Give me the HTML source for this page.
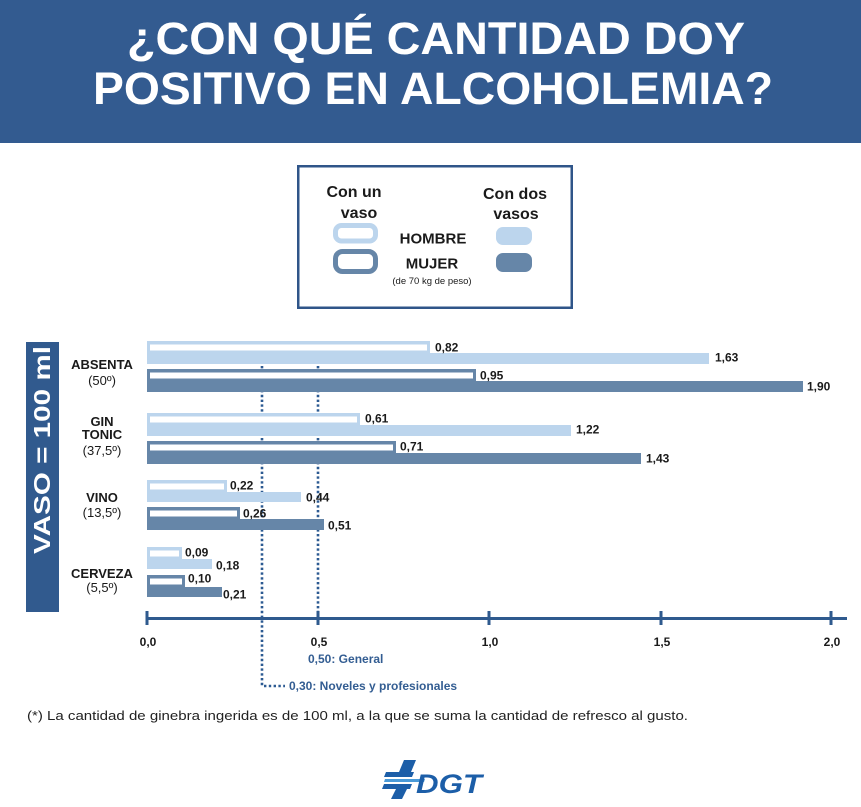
<!DOCTYPE html>
<html><head><meta charset="utf-8">
<style>
html,body{margin:0;padding:0;background:#fff;}
svg{display:block;}
text{font-family:"Liberation Sans",Arial,sans-serif;}
</style></head>
<body>
<svg width="861" height="807" viewBox="0 0 861 807" xmlns="http://www.w3.org/2000/svg">
<!-- header -->
<rect x="0" y="0" width="861" height="143" fill="#335b90"/>
<text x="436" y="54" text-anchor="middle" font-size="45" font-weight="bold" fill="#fff" textLength="618" lengthAdjust="spacingAndGlyphs">¿CON QUÉ CANTIDAD DOY</text>
<text x="433" y="104" text-anchor="middle" font-size="45" font-weight="bold" fill="#fff" textLength="680" lengthAdjust="spacingAndGlyphs">POSITIVO EN ALCOHOLEMIA?</text>

<!-- legend -->
<rect x="298.25" y="166.25" width="273.5" height="141.5" fill="#fff" stroke="#2f5589" stroke-width="2.5"/>
<text x="354" y="197" text-anchor="middle" font-size="16" font-weight="bold" fill="#1a1a1a">Con un</text>
<text x="359" y="218" text-anchor="middle" font-size="16" font-weight="bold" fill="#1a1a1a">vaso</text>
<text x="515" y="199" text-anchor="middle" font-size="16" font-weight="bold" fill="#1a1a1a">Con dos</text>
<text x="516" y="219" text-anchor="middle" font-size="16" font-weight="bold" fill="#1a1a1a">vasos</text>
<rect x="335.5" y="225.5" width="40" height="15.5" rx="6" fill="#fff" stroke="#bcd5ed" stroke-width="5"/>
<rect x="335.5" y="251.5" width="40" height="20" rx="7" fill="#fff" stroke="#6686a8" stroke-width="5"/>
<rect x="496" y="227" width="36" height="18" rx="7" fill="#bcd5ed"/>
<rect x="496" y="253" width="36" height="19" rx="7" fill="#6686a8"/>
<text x="433" y="243.5" text-anchor="middle" font-size="15" font-weight="bold" fill="#1a1a1a">HOMBRE</text>
<text x="432" y="268.5" text-anchor="middle" font-size="15" font-weight="bold" fill="#1a1a1a">MUJER</text>
<text x="432" y="284" text-anchor="middle" font-size="9.5" fill="#1a1a1a">(de 70 kg de peso)</text>

<!-- VASO = 100 ml -->
<rect x="26" y="342" width="33" height="270" fill="#315a8e"/>
<text transform="translate(50,450) rotate(-90)" x="0" y="0" text-anchor="middle" font-size="23" font-weight="bold" fill="#fff" textLength="208" lengthAdjust="spacingAndGlyphs">VASO = 100 ml</text>

<!-- category labels -->
<g font-size="13" fill="#1a1a1a" text-anchor="middle">
<text x="102" y="369" font-weight="bold">ABSENTA</text>
<text x="102" y="385">(50º)</text>
<text x="102" y="426" font-weight="bold">GIN</text>
<text x="102" y="439" font-weight="bold">TONIC</text>
<text x="102" y="455">(37,5º)</text>
<text x="102" y="502" font-weight="bold">VINO</text>
<text x="102" y="517">(13,5º)</text>
<text x="102" y="578" font-weight="bold">CERVEZA</text>
<text x="102" y="592">(5,5º)</text>
</g>

<!-- dotted reference lines -->
<g stroke="#2c5a92" stroke-width="2.6" stroke-dasharray="2.4 2.4" fill="none">
<line x1="262" y1="366" x2="262" y2="686"/>
<line x1="264" y1="686" x2="285" y2="686"/>
<line x1="318" y1="366" x2="318" y2="612"/>
</g>

<!-- bars -->
<g>
<!-- ABSENTA -->
<rect x="147" y="341" width="283" height="12" fill="#bcd5ed"/><rect x="150" y="344.5" width="277" height="6" fill="#fff"/>
<rect x="147" y="353" width="562" height="11" fill="#bcd5ed"/>
<rect x="147" y="369" width="329" height="12" fill="#6686a8"/><rect x="150" y="372.5" width="323" height="6" fill="#fff"/>
<rect x="147" y="381" width="656" height="11" fill="#6686a8"/>
<!-- GIN -->
<rect x="147" y="413" width="213" height="12" fill="#bcd5ed"/><rect x="150" y="416.5" width="207" height="6" fill="#fff"/>
<rect x="147" y="425" width="424" height="11" fill="#bcd5ed"/>
<rect x="147" y="441" width="249" height="12" fill="#6686a8"/><rect x="150" y="444.5" width="243" height="6" fill="#fff"/>
<rect x="147" y="453" width="494" height="11" fill="#6686a8"/>
<!-- VINO -->
<rect x="147" y="480" width="80" height="12" fill="#bcd5ed"/><rect x="150" y="483.5" width="74" height="6" fill="#fff"/>
<rect x="147" y="492" width="154" height="10" fill="#bcd5ed"/>
<rect x="147" y="507" width="93" height="12" fill="#6686a8"/><rect x="150" y="510.5" width="87" height="6" fill="#fff"/>
<rect x="147" y="519" width="177" height="11" fill="#6686a8"/>
<!-- CERVEZA -->
<rect x="147" y="547" width="35" height="12" fill="#bcd5ed"/><rect x="150" y="550.5" width="29" height="6" fill="#fff"/>
<rect x="147" y="559" width="65" height="10" fill="#bcd5ed"/>
<rect x="147" y="575" width="38" height="12" fill="#6686a8"/><rect x="150" y="578.5" width="32" height="6" fill="#fff"/>
<rect x="147" y="587" width="75" height="10" fill="#6686a8"/>
</g>

<!-- value labels -->
<g font-size="12" font-weight="bold" fill="#1a1a1a">
<text x="435" y="351.5">0,82</text>
<text x="715" y="361.5">1,63</text>
<text x="480" y="379.5">0,95</text>
<text x="807" y="390.5">1,90</text>
<text x="365" y="422.5">0,61</text>
<text x="576" y="433.5">1,22</text>
<text x="400" y="450.5">0,71</text>
<text x="646" y="462.5">1,43</text>
<text x="230" y="489.5">0,22</text>
<text x="306" y="501.5">0,44</text>
<text x="243" y="517.5">0,26</text>
<text x="328" y="529.5">0,51</text>
<text x="185" y="556.5">0,09</text>
<text x="216" y="569.5">0,18</text>
<text x="188" y="582.5">0,10</text>
<text x="223" y="598.5">0,21</text>
</g>

<!-- axis -->
<rect x="147" y="617" width="700" height="3" fill="#2f5a8e"/>
<g fill="#2f5a8e">
<rect x="145.5" y="611" width="3" height="14"/>
<rect x="316.5" y="611" width="3" height="14"/>
<rect x="487.5" y="611" width="3" height="14"/>
<rect x="659.5" y="611" width="3" height="14"/>
<rect x="829.5" y="611" width="3" height="14"/>
</g>
<g font-size="12" font-weight="bold" fill="#1a1a1a" text-anchor="middle">
<text x="148" y="646">0,0</text>
<text x="319" y="646">0,5</text>
<text x="490" y="646">1,0</text>
<text x="662" y="646">1,5</text>
<text x="832" y="646">2,0</text>
</g>
<text x="308" y="663" font-size="12" font-weight="bold" fill="#335d92">0,50: General</text>
<text x="289" y="690" font-size="12" font-weight="bold" fill="#335d92">0,30: Noveles y profesionales</text>

<!-- footnote -->
<text x="27" y="720" font-size="12.5" fill="#222" textLength="661" lengthAdjust="spacingAndGlyphs">(*) La cantidad de ginebra ingerida es de 100 ml, a la que se suma la cantidad de refresco al gusto.</text>

<!-- DGT logo -->
<g>
<polygon points="404,760 416,760 411,772 399,772" fill="#1c5ea8"/>
<polygon points="386,772 414,772 412,777 384,777" fill="#1c5ea8"/>
<polygon points="385,779 425,779 424,782 384,782" fill="#4a9ad8"/>
<polygon points="384,784 412,784 410,789 382,789" fill="#1c5ea8"/>
<polygon points="396,789 407,789 402,799 391,799" fill="#1c5ea8"/>
<text x="416" y="793" font-size="27" font-weight="bold" font-style="italic" fill="#1c5ea8" textLength="66" lengthAdjust="spacingAndGlyphs">DGT</text>
</g>
</svg>
</body></html>
